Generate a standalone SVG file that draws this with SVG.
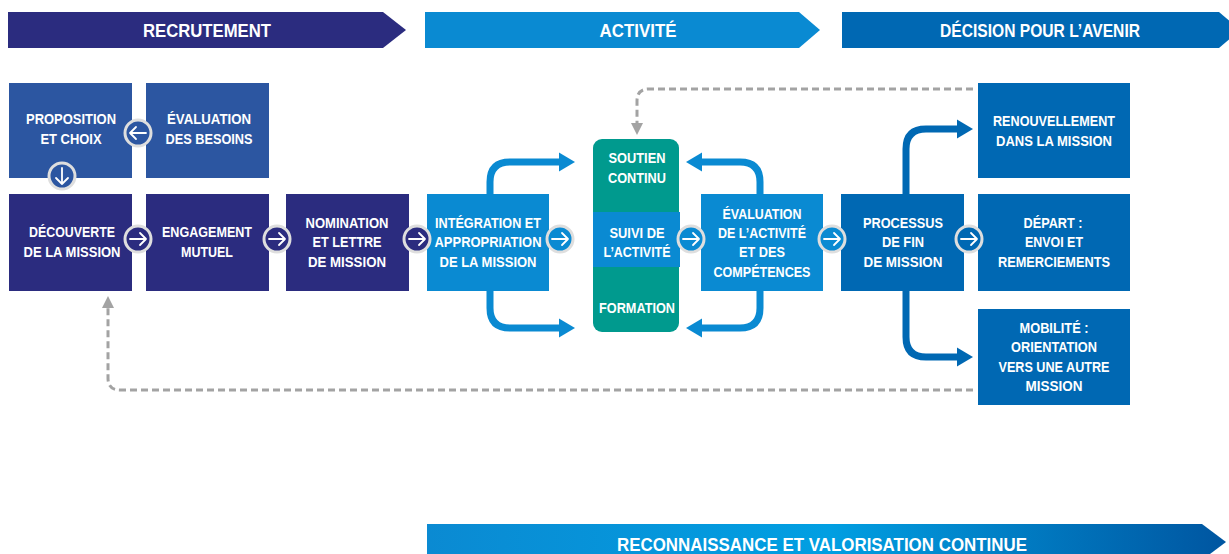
<svg xmlns="http://www.w3.org/2000/svg" width="1229" height="554" viewBox="0 0 1229 554">
<style>
.t{font-family:"Liberation Sans Narrow","Liberation Sans",Arial,sans-serif;font-weight:bold;fill:#fff;text-anchor:middle;font-size:15px}
.bt{font-family:"Liberation Sans Narrow","Liberation Sans",Arial,sans-serif;font-weight:bold;fill:#fff;text-anchor:middle;font-size:18px}
.navy{fill:#2b2c7f}
.mid{fill:#2c56a1}
.lb{fill:#0a8ad2}
.db{fill:#0068b3}
.teal{fill:#009a8e}
.dash{fill:none;stroke:#a3a3a3;stroke-width:3;stroke-dasharray:7 4}
.flowL{fill:none;stroke:#0a8ad2;stroke-width:7}
.flowD{fill:none;stroke:#0068b3;stroke-width:7}
.ring{stroke:#dedede;stroke-width:3}
</style>
<defs>
<linearGradient id="gb" x1="427" y1="0" x2="1229" y2="0" gradientUnits="userSpaceOnUse">
<stop offset="0" stop-color="#0b8ad2"/>
<stop offset="0.5" stop-color="#019fe2"/>
<stop offset="1" stop-color="#0055a0"/>
</linearGradient>
<g id="arr">
<path d="M-8,0 H8 M2,-6 L8,0 L2,6" fill="none" stroke="#fff" stroke-width="1.8" stroke-linecap="round" stroke-linejoin="round"/>
</g>
<marker id="ga" markerWidth="4" markerHeight="4" refX="1" refY="2" orient="auto" markerUnits="strokeWidth">
<path d="M0,0 L4,2 L0,4 Z" fill="#a3a3a3"/>
</marker>
</defs>

<g id="banners">
<g id="banner-recrutement">
<polygon class="navy" points="8,12 383,12 406,30 383,48 8,48"/>
<text class="bt" x="207" y="36.5" textLength="128" lengthAdjust="spacingAndGlyphs">RECRUTEMENT</text>
</g>
<g id="banner-activite">
<polygon class="lb" points="425,12 799,12 820,30 799,48 425,48"/>
<text class="bt" x="638" y="36.5" textLength="77" lengthAdjust="spacingAndGlyphs">ACTIVITÉ</text>
</g>
<g id="banner-decision">
<polygon class="db" points="842,12 1219,12 1240,30 1219,48 842,48"/>
<text class="bt" x="1040" y="36.5" textLength="200" lengthAdjust="spacingAndGlyphs">DÉCISION POUR L’AVENIR</text>
</g>
<g id="banner-reconnaissance">
<polygon fill="url(#gb)" points="427,524 1202,524 1226,542 1202,560 427,560"/>
<text class="bt" x="822" y="550.5" textLength="410" lengthAdjust="spacingAndGlyphs">RECONNAISSANCE ET VALORISATION CONTINUE</text>
</g>
</g>

<g id="connectors">
<path class="dash" d="M973,89 H649 Q637,89 637,101 V126" marker-end="url(#ga)"/>
<path class="dash" d="M973,390 H120 Q108,390 108,378 V305" marker-end="url(#ga)"/>
<path class="flowL" d="M490,194 V182 Q490,162 510,162 H561"/>
<polygon class="lb" points="559,152.5 575,162 559,171.5"/>
<path class="flowL" d="M490,291 V308 Q490,328 510,328 H561"/>
<polygon class="lb" points="559,318.5 575,328 559,337.5"/>
<path class="flowL" d="M760,194 V182 Q760,162 740,162 H700"/>
<polygon class="lb" points="702,152.5 686,162 702,171.5"/>
<path class="flowL" d="M760,291 V308 Q760,328 740,328 H700"/>
<polygon class="lb" points="702,318.5 686,328 702,337.5"/>
<path class="flowD" d="M906,194 V149 Q906,129 926,129 H959"/>
<polygon class="db" points="957,119.5 973,129 957,138.5"/>
<path class="flowD" d="M906,291 V337 Q906,357 926,357 H959"/>
<polygon class="db" points="957,347.5 973,357 957,366.5"/>
</g>

<g id="n-proposition">
<rect class="mid" x="9" y="83" width="123" height="95"/>
<text class="t" x="71" y="124" textLength="90" lengthAdjust="spacingAndGlyphs">PROPOSITION</text>
<text class="t" x="71" y="144" textLength="61" lengthAdjust="spacingAndGlyphs">ET CHOIX</text>
</g>
<g id="n-evaluation-besoins">
<rect class="mid" x="146" y="83" width="123" height="95"/>
<text class="t" x="209" y="124" textLength="84" lengthAdjust="spacingAndGlyphs">ÉVALUATION</text>
<text class="t" x="209" y="144" textLength="87" lengthAdjust="spacingAndGlyphs">DES BESOINS</text>
</g>
<g id="n-decouverte">
<rect class="navy" x="9" y="194" width="123" height="97"/>
<text class="t" x="72" y="237" textLength="86" lengthAdjust="spacingAndGlyphs">DÉCOUVERTE</text>
<text class="t" x="72" y="257" textLength="97" lengthAdjust="spacingAndGlyphs">DE LA MISSION</text>
</g>
<g id="n-engagement">
<rect class="navy" x="146" y="194" width="123" height="97"/>
<text class="t" x="207" y="237" textLength="90" lengthAdjust="spacingAndGlyphs">ENGAGEMENT</text>
<text class="t" x="207" y="257" textLength="52" lengthAdjust="spacingAndGlyphs">MUTUEL</text>
</g>
<g id="n-nomination">
<rect class="navy" x="286" y="194" width="123" height="97"/>
<text class="t" x="347" y="228" textLength="83" lengthAdjust="spacingAndGlyphs">NOMINATION</text>
<text class="t" x="347" y="247" textLength="69" lengthAdjust="spacingAndGlyphs">ET LETTRE</text>
<text class="t" x="347" y="267" textLength="78" lengthAdjust="spacingAndGlyphs">DE MISSION</text>
</g>
<g id="n-integration">
<rect class="lb" x="427" y="194" width="122" height="97"/>
<text class="t" x="488" y="228" textLength="106" lengthAdjust="spacingAndGlyphs">INTÉGRATION ET</text>
<text class="t" x="488" y="247" textLength="107" lengthAdjust="spacingAndGlyphs">APPROPRIATION</text>
<text class="t" x="488" y="267" textLength="97" lengthAdjust="spacingAndGlyphs">DE LA MISSION</text>
</g>
<g id="n-activite">
<rect class="teal" x="593" y="139" width="86" height="193" rx="9"/>
<rect class="lb" x="593" y="212" width="87" height="55"/>
<text class="t" x="637" y="163" textLength="57" lengthAdjust="spacingAndGlyphs">SOUTIEN</text>
<text class="t" x="637" y="183" textLength="58" lengthAdjust="spacingAndGlyphs">CONTINU</text>
<text class="t" x="637" y="238" textLength="55" lengthAdjust="spacingAndGlyphs">SUIVI DE</text>
<text class="t" x="637" y="257" textLength="67" lengthAdjust="spacingAndGlyphs">L’ACTIVITÉ</text>
<text class="t" x="637" y="313" textLength="76" lengthAdjust="spacingAndGlyphs">FORMATION</text>
</g>
<g id="n-evaluation">
<rect class="lb" x="701" y="194" width="122" height="97"/>
<text class="t" x="762" y="219" textLength="79" lengthAdjust="spacingAndGlyphs">ÉVALUATION</text>
<text class="t" x="762" y="238" textLength="88" lengthAdjust="spacingAndGlyphs">DE L’ACTIVITÉ</text>
<text class="t" x="762" y="257" textLength="46" lengthAdjust="spacingAndGlyphs">ET DES</text>
<text class="t" x="762" y="277" textLength="97" lengthAdjust="spacingAndGlyphs">COMPÉTENCES</text>
</g>
<g id="n-processus">
<rect class="db" x="841" y="194" width="123" height="97"/>
<text class="t" x="903" y="228" textLength="80" lengthAdjust="spacingAndGlyphs">PROCESSUS</text>
<text class="t" x="903" y="247" textLength="42" lengthAdjust="spacingAndGlyphs">DE FIN</text>
<text class="t" x="903" y="267" textLength="79" lengthAdjust="spacingAndGlyphs">DE MISSION</text>
</g>
<g id="n-renouvellement">
<rect class="db" x="978" y="83" width="152" height="95"/>
<text class="t" x="1054" y="126" textLength="122" lengthAdjust="spacingAndGlyphs">RENOUVELLEMENT</text>
<text class="t" x="1054" y="146" textLength="116" lengthAdjust="spacingAndGlyphs">DANS LA MISSION</text>
</g>
<g id="n-depart">
<rect class="db" x="978" y="194" width="152" height="97"/>
<text class="t" x="1053" y="228" textLength="59" lengthAdjust="spacingAndGlyphs">DÉPART :</text>
<text class="t" x="1054" y="247" textLength="58" lengthAdjust="spacingAndGlyphs">ENVOI ET</text>
<text class="t" x="1054" y="267" textLength="112" lengthAdjust="spacingAndGlyphs">REMERCIEMENTS</text>
</g>
<g id="n-mobilite">
<rect class="db" x="978" y="309" width="152" height="96"/>
<text class="t" x="1054" y="333" textLength="69" lengthAdjust="spacingAndGlyphs">MOBILITÉ :</text>
<text class="t" x="1054" y="352" textLength="86" lengthAdjust="spacingAndGlyphs">ORIENTATION</text>
<text class="t" x="1054" y="372" textLength="111" lengthAdjust="spacingAndGlyphs">VERS UNE AUTRE</text>
<text class="t" x="1054" y="391" textLength="57" lengthAdjust="spacingAndGlyphs">MISSION</text>
</g>

<g id="step-icons">
<circle class="mid ring" cx="138" cy="133" r="13"/>
<use href="#arr" transform="translate(138,133) rotate(180)"/>
<circle class="mid ring" cx="62" cy="176" r="13"/>
<use href="#arr" transform="translate(62,176) rotate(90)"/>
<circle class="navy ring" cx="138" cy="239" r="13"/>
<use href="#arr" transform="translate(138,239)"/>
<circle class="navy ring" cx="277" cy="239" r="13"/>
<use href="#arr" transform="translate(277,239)"/>
<circle class="navy ring" cx="417" cy="239" r="13"/>
<use href="#arr" transform="translate(417,239)"/>
<circle class="lb ring" cx="560" cy="239" r="13"/>
<use href="#arr" transform="translate(560,239)"/>
<circle class="lb ring" cx="691" cy="239" r="13"/>
<use href="#arr" transform="translate(691,239)"/>
<circle class="lb ring" cx="832" cy="239" r="13"/>
<use href="#arr" transform="translate(832,239)"/>
<circle class="db ring" cx="969" cy="239" r="13"/>
<use href="#arr" transform="translate(969,239)"/>
</g>
</svg>
